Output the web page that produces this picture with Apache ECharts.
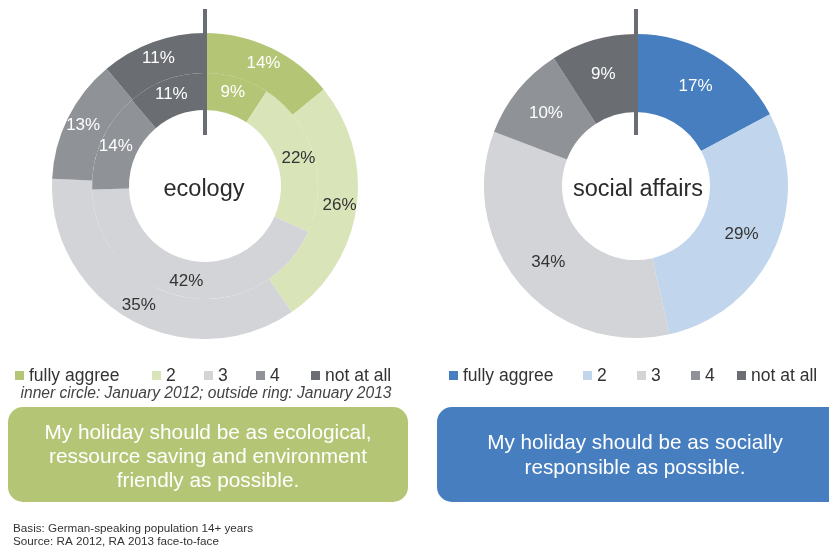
<!DOCTYPE html>
<html>
<head>
<meta charset="utf-8">
<script src="https://cdn.jsdelivr.net/npm/echarts@6/dist/echarts.min.js"></script>
<style>
  html, body { margin: 0; padding: 0; background: #fff; }
  #chart { width: 829px; height: 549px; }
</style>
</head>
<body>
<div id="chart"></div>
<script>
// Answer scale
const categories = ['fully aggree', '2', '3', '4', 'not at all'];

// Ecology: inner ring = January 2012, outer ring = January 2013
const ecology2012 = [9, 22, 42, 14, 11];
const ecology2013 = [14, 26, 35, 13, 11];

// Social affairs (single ring)
const social = [17, 29, 34, 10, 9];

const greenColors = ['#b4c676', '#d9e4b9', '#d3d4d7', '#8f9297', '#6a6d72'];
const blueColors  = ['#467ec0', '#c1d6ed', '#d3d4d7', '#8f9297', '#6a6d72'];
const labelColors = ['#ffffff', '#333333', '#333333', '#ffffff', '#ffffff'];

const FONT = '"Liberation Sans", Arial, sans-serif';

function pieData(values, colors) {
  return values.map((v, i) => ({
    name: categories[i],
    value: v,
    itemStyle: { color: colors[i] },
    label: { color: labelColors[i] }
  }));
}

function ring(values, colors, center, radius) {
  return {
    type: 'pie',
    center: center,
    radius: radius,
    startAngle: 90,
    clockwise: true,
    silent: true,
    animation: false,
    avoidLabelOverlap: false,
    itemStyle: { borderWidth: 0 },
    label: {
      show: true,
      position: 'inside',
      formatter: '{c}%',
      fontFamily: FONT,
      fontSize: 17
    },
    labelLine: { show: false },
    emphasis: { disabled: true },
    data: pieData(values, colors)
  };
}

// Legend rows drawn as graphic groups
function legendRow(colors, markerXs, y) {
  const items = [];
  categories.forEach((name, i) => {
    items.push({
      type: 'rect',
      shape: { x: markerXs[i], y: y - 5, width: 9, height: 9 },
      style: { fill: colors[i] }
    });
    items.push({
      type: 'text',
      x: markerXs[i] + 14, y: y,
      style: {
        text: name, fill: '#333', font: '17.5px ' + FONT,
        textVerticalAlign: 'middle', textAlign: 'left'
      }
    });
  });
  return items;
}

const leftCenter = [205, 186];
const rightCenter = [636, 186];

const chart = echarts.init(document.getElementById('chart'), null, { renderer: 'canvas' });

chart.setOption({
  backgroundColor: '#ffffff',
  animation: false,
  series: [
    ring(ecology2012, greenColors, leftCenter, [76, 113]),
    ring(ecology2013, greenColors, leftCenter, [113, 153]),
    ring(social, blueColors, rightCenter, [74, 152])
  ],
  graphic: [
    // start markers at 12 o'clock
    { type: 'rect', shape: { x: 203, y: 9, width: 4, height: 126 }, style: { fill: '#6a6d72' }, z: 100 },
    { type: 'rect', shape: { x: 634, y: 9, width: 4, height: 126 }, style: { fill: '#6a6d72' }, z: 100 },
    // centre titles
    { type: 'text', x: 204, y: 190, style: { text: 'ecology', fill: '#2b2b2b', font: '23.5px ' + FONT, textAlign: 'center', textVerticalAlign: 'middle' }, z: 100 },
    { type: 'text', x: 638, y: 190, style: { text: 'social affairs', fill: '#2b2b2b', font: '23.5px ' + FONT, textAlign: 'center', textVerticalAlign: 'middle' }, z: 100 },
    // legends
    ...legendRow(greenColors, [15, 152, 204, 256, 311], 376),
    ...legendRow(blueColors, [449, 583, 637, 691, 737], 376),
    { type: 'text', x: 206, y: 394, style: { text: 'inner circle: January 2012; outside ring: January 2013', fill: '#444', font: 'italic 15.6px ' + FONT, textAlign: 'center', textVerticalAlign: 'middle' } },
    // statement boxes
    { type: 'rect', shape: { x: 8, y: 407, width: 400, height: 95, r: 15 }, style: { fill: '#b4c676' } },
    { type: 'text', x: 208, y: 457, style: { text: 'My holiday should be as ecological,\nressource saving and environment\nfriendly as possible.', fill: '#ffffff', font: '20.8px ' + FONT, textAlign: 'center', textVerticalAlign: 'middle', lineHeight: 24 } },
    { type: 'rect', shape: { x: 437, y: 407, width: 410, height: 95, r: 15 }, style: { fill: '#467ec0' } },
    { type: 'text', x: 635, y: 456, style: { text: 'My holiday should be as socially\nresponsible as possible.', fill: '#ffffff', font: '20.7px ' + FONT, textAlign: 'center', textVerticalAlign: 'middle', lineHeight: 25 } },
    // footnote
    { type: 'text', x: 13, y: 529, style: { text: 'Basis: German-speaking population 14+ years', fill: '#333', font: '11.7px ' + FONT, textVerticalAlign: 'middle' } },
    { type: 'text', x: 13, y: 542, style: { text: 'Source: RA 2012, RA 2013 face-to-face', fill: '#333', font: '11.7px ' + FONT, textVerticalAlign: 'middle' } }
  ]
});
</script>
</body>
</html>
